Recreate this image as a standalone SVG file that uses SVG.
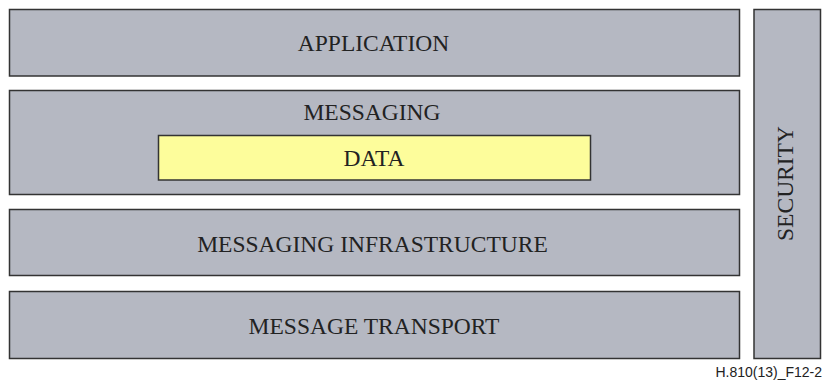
<svg xmlns="http://www.w3.org/2000/svg" width="825" height="383" viewBox="0 0 825 383">
<style>
.box{fill:#b5b8c2;stroke:#333;stroke-width:1.5}
.data{fill:#fdfd9b;stroke:#333;stroke-width:1.5}
.t{font-family:"Liberation Serif","Times New Roman",serif;font-size:23.5px;fill:#222;text-anchor:middle}
.cap{font-family:"Liberation Sans",Arial,sans-serif;font-size:14px;fill:#222;text-anchor:end}
</style>
<rect width="825" height="383" fill="#fff"/>
<g id="application"><rect class="box" x="9.5" y="9.5" width="730" height="66.5"/><text class="t" x="373.5" y="51">APPLICATION</text></g>
<g id="messaging"><rect class="box" x="9.5" y="90.5" width="730" height="104"/><text class="t" x="372" y="120">MESSAGING</text></g>
<g id="data"><rect class="data" x="158.5" y="135.5" width="432" height="44.5"/><text class="t" x="374" y="166">DATA</text></g>
<g id="infrastructure"><rect class="box" x="9.5" y="209.5" width="730" height="66"/><text class="t" x="372.5" y="251.5">MESSAGING INFRASTRUCTURE</text></g>
<g id="transport"><rect class="box" x="9.5" y="291.5" width="730" height="67"/><text class="t" x="374" y="333.5">MESSAGE TRANSPORT</text></g>
<g id="security"><rect class="box" x="754" y="9.5" width="66.5" height="349"/><text class="t" transform="translate(793,183.5) rotate(-90)">SECURITY</text></g>
<g id="connectors"/>
<text class="cap" x="822" y="377">H.810(13)_F12-2</text>
</svg>
